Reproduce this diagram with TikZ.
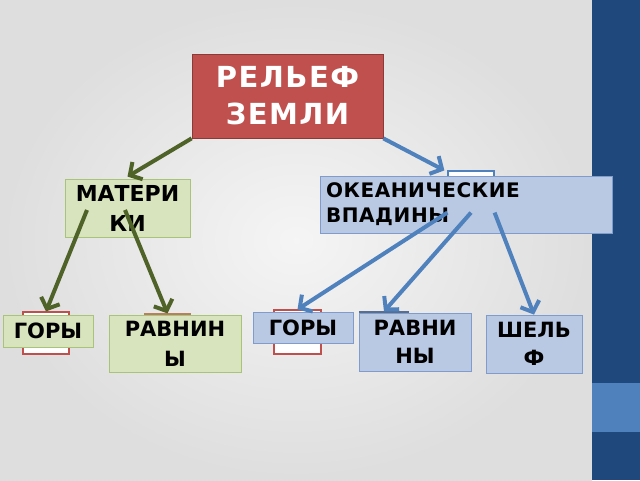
\documentclass[tikz,border=0pt]{standalone}
\usepackage{fontspec}
\setmainfont{DejaVu Sans}
\usepackage{tikz}
\usetikzlibrary{arrows.meta}

\definecolor{reliefred}{HTML}{C0504D}
\definecolor{reliefredline}{HTML}{8C3A38}
\definecolor{landfill}{HTML}{D7E4BD}
\definecolor{landline}{HTML}{A9C47A}
\definecolor{seafill}{HTML}{B9C9E3}
\definecolor{sealine}{HTML}{7F9CCB}
\definecolor{landarrow}{HTML}{4F6228}
\definecolor{seaarrow}{HTML}{4F81BD}
\definecolor{sidebar}{HTML}{1F497D}

\begin{document}
\begin{tikzpicture}[x=1pt,y=-1pt,
    box/.style={draw, line width=0.8pt, inner sep=0pt, align=center},
    rootbox/.style={box, fill=reliefred, draw=reliefredline, text=white,
        font=\fontsize{29}{37}\selectfont\bfseries\addfontfeature{LetterSpace=5}},
    landbox/.style={box, fill=landfill, draw=landline,
        font=\fontsize{21}{30}\selectfont\bfseries},
    seabox/.style={box, fill=seafill, draw=sealine,
        font=\fontsize{21}{28}\selectfont\bfseries},
    tab/.style={draw=reliefred, fill=white, line width=1.2pt, inner sep=0pt},
    landlink/.style={draw=landarrow, line width=4pt, -{Straight Barb[length=9pt,width=20pt]}},
    sealink/.style={draw=seaarrow, line width=4pt, -{Straight Barb[length=9pt,width=20pt]}}]

    % background and side bar
    \useasboundingbox (0,0) rectangle (640,480);
    \shade[inner color=white!96!black, outer color=white!87!black] (0,0) rectangle (592,480);
    \fill[sidebar] (592,0) rectangle (640,480);
    \fill[seaarrow] (592,383) rectangle (640,432);

    % boxes lying underneath
    \node[tab, draw=seaarrow, minimum width=46pt, minimum height=41pt] (seatab) at (471,191.5) {};
    \node[tab, minimum width=46pt, minimum height=42pt] (goryLtab) at (46,333) {};
    \node[tab, draw=reliefred!60!landline, minimum width=45pt, minimum height=46pt] (ravLtab) at (167.5,337) {};
    \node[tab, minimum width=47pt, minimum height=44pt] (goryOtab) at (297.5,332) {};
    \node[tab, draw=sealine!70!black, minimum width=48pt, minimum height=48pt] (ravOtab) at (384,336) {};

    % main boxes
    \node[rootbox, minimum width=191pt, minimum height=84pt] (root) at (287.5,96) {РЕЛЬЕФ\\ЗЕМЛИ};
    \node[landbox, font=\fontsize{22}{30}\selectfont\bfseries, minimum width=125pt, minimum height=58pt] (mat) at (127.5,208) {МАТЕРИ\\КИ};
    \node[seabox, font=\fontsize{20}{25}\selectfont\bfseries\addfontfeature{LetterSpace=3}, minimum width=292pt, minimum height=57pt,
        text width=280pt, align=left] (sea) at (466,204.5) {ОКЕАНИЧЕСКИЕ\\ВПАДИНЫ};

    \node[landbox, minimum width=90pt, minimum height=32pt] (goryL) at (48,331) {ГОРЫ};
    \node[landbox, minimum width=132pt, minimum height=57pt] (ravL) at (175,343.5) {РАВНИН\\Ы};
    \node[seabox, minimum width=100pt, minimum height=31pt] (goryO) at (303,327.5) {ГОРЫ};
    \node[seabox, minimum width=112pt, minimum height=58pt] (ravO) at (415,342) {РАВНИ\\НЫ};
    \node[seabox, minimum width=96pt, minimum height=58pt] (shelf) at (534,344) {ШЕЛЬ\\Ф};

    % arrows
    \coordinate (matL) at (87,210);
    \coordinate (matR) at (125,210);
    \draw[landlink] (root.south west) -- ([yshift=2pt]mat.north);
    \draw[sealink] (root.south east) -- ([xshift=-3pt]seatab.north west);
    \draw[landlink] (matL) -- (goryLtab.north);
    \draw[landlink] (matR) -- (ravLtab.north);
    \draw[sealink] (seatab.south west) -- (goryOtab.north);
    \draw[sealink] (seatab.south) -- (ravOtab.north);
    \draw[sealink] (seatab.south east) -- (shelf.north);
\end{tikzpicture}
\end{document}
